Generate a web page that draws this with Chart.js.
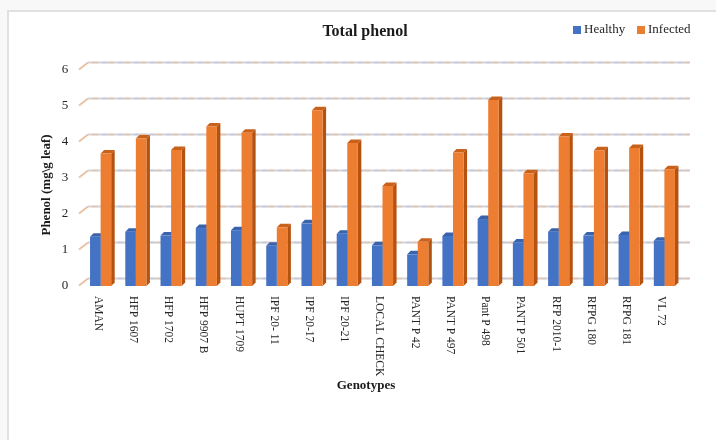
<!DOCTYPE html>
<html>
<head>
<meta charset="utf-8">
<script src="https://cdn.jsdelivr.net/npm/chart.js@4/dist/chart.umd.min.js"></script>
<style>
html,body{margin:0;padding:0;background:#fff;}
canvas{display:block;}
</style>
</head>
<body>
<canvas id="c" width="716" height="440"></canvas>
<script>
const categories = ["AMAN","HFP 1607","HFP 1702","HFP 9907 B","HUPT 1709","IPF 20- 11","IPF 20-17","IPF 20-21","LOCAL CHECK","PANT P 42","PANT P 497","Pant P 498","PANT P 501","RFP 2010-1","RFPG 180","RFPG 181","VL 72"];
const healthy  = [1.37,1.51,1.40,1.61,1.55,1.12,1.74,1.45,1.13,0.88,1.39,1.86,1.21,1.51,1.40,1.42,1.26];
const infected = [3.68,4.10,3.78,4.43,4.26,1.63,4.88,3.97,2.78,1.23,3.71,5.17,3.13,4.15,3.77,3.83,3.24];
const yTicks = [0,1,2,3,4,5,6];
const seriesNames = ["Healthy","Infected"];
const chartTitle = "Total phenol";
const xTitle = "Genotypes";
const yTitle = "Phenol (mg\\g leaf)";

const FRONT = ["#4472C4","#ED7D31"];
const SIDE  = ["#2E5597","#B5520F"];
const TOP   = ["#3A63AE","#C9611B"];
const SERIF = '"Liberation Serif", "DejaVu Serif", serif';
const D = 3.5;

const framePlugin = {
  id:'frame',
  beforeDraw(chart){
    const ctx = chart.ctx;
    ctx.save();
    ctx.fillStyle = '#f8f8f8';
    ctx.fillRect(0,0,chart.width,chart.height);
    ctx.fillStyle = '#ffffff';
    ctx.fillRect(9,12,chart.width,chart.height);
    ctx.strokeStyle = '#e1e1e1';
    ctx.lineWidth = 2;
    ctx.strokeRect(8,11,chart.width+10,chart.height+10);
    // back-wall gridlines
    const ys = chart.scales.y, area = chart.chartArea;
    yTicks.forEach(v=>{
      const yf = ys.getPixelForValue(v);
      const yb = yf - 7.5;
      const xf = area.left - 4, xb = area.left + 5;
      ctx.lineWidth = 2;
      ctx.strokeStyle = '#e8c3a8';
      ctx.beginPath(); ctx.moveTo(xf, yf-0.5); ctx.lineTo(xb, yb); ctx.stroke();
      ctx.strokeStyle = '#d6d3d6';
      ctx.beginPath(); ctx.moveTo(xb, yb); ctx.lineTo(690, yb); ctx.stroke();
      ctx.setLineDash([6,10]);
      ctx.strokeStyle = 'rgba(236,178,134,0.35)';
      ctx.beginPath(); ctx.moveTo(xb+4, yb); ctx.lineTo(690, yb); ctx.stroke();
      ctx.setLineDash([5,11]);
      ctx.strokeStyle = 'rgba(160,184,228,0.35)';
      ctx.beginPath(); ctx.moveTo(xb+14, yb); ctx.lineTo(690, yb); ctx.stroke();
      ctx.setLineDash([]);
    });
    ctx.restore();
  },
  beforeDatasetsDraw(chart){
    const ctx = chart.ctx;
    ctx.save();
    chart.data.datasets.forEach((ds, di)=>{
      const meta = chart.getDatasetMeta(di);
      meta.data.forEach(el=>{
        const p = el.getProps(['x','y','base','width'], true);
        const l = p.x - p.width/2, r = p.x + p.width/2;
        ctx.fillStyle = SIDE[di];
        ctx.beginPath();
        ctx.moveTo(r, p.y); ctx.lineTo(r+D, p.y-D); ctx.lineTo(r+D, p.base-D); ctx.lineTo(r, p.base);
        ctx.closePath(); ctx.fill();
        ctx.fillStyle = TOP[di];
        ctx.beginPath();
        ctx.moveTo(l, p.y); ctx.lineTo(l+D, p.y-D); ctx.lineTo(r+D, p.y-D); ctx.lineTo(r, p.y);
        ctx.closePath(); ctx.fill();
      });
    });
    ctx.restore();
  },
  afterDraw(chart){
    const ctx = chart.ctx, xs = chart.scales.x, ys = chart.scales.y;
    ctx.save();
    ctx.fillStyle = '#262626';
    ctx.font = '13px ' + SERIF;
    ctx.textAlign = 'center';
    ctx.textBaseline = 'middle';
    yTicks.forEach(v=>{ ctx.fillText(String(v), 65, ys.getPixelForValue(v)); });
    ctx.font = '11.5px ' + SERIF;
    categories.forEach((c,i)=>{
      const x = xs.getPixelForValue(i) - 3;
      ctx.save();
      ctx.translate(x, 296);
      ctx.rotate(Math.PI/2);
      ctx.textAlign = 'left';
      ctx.textBaseline = 'middle';
      ctx.fillText(c, 0, 0);
      ctx.restore();
    });
    ctx.fillStyle = '#1a1a1a';
    ctx.font = 'bold 16px ' + SERIF;
    ctx.textAlign = 'center';
    ctx.fillText(chartTitle, 365, 32);
    ctx.font = 'bold 13px ' + SERIF;
    ctx.fillText(xTitle, 366, 386);
    ctx.save();
    ctx.translate(47, 185);
    ctx.rotate(-Math.PI/2);
    ctx.font = 'bold 13px ' + SERIF;
    ctx.fillText(yTitle, 0, 0);
    ctx.restore();
    ctx.font = '13px ' + SERIF;
    ctx.textAlign = 'left';
    ctx.fillStyle = FRONT[0];
    ctx.fillRect(573, 26, 8, 8);
    ctx.fillStyle = '#262626';
    ctx.fillText(seriesNames[0], 584, 30);
    ctx.fillStyle = FRONT[1];
    ctx.fillRect(637, 26, 8, 8);
    ctx.fillStyle = '#262626';
    ctx.fillText(seriesNames[1], 648, 30);
    ctx.restore();
  }
};

new Chart(document.getElementById('c'), {
  type:'bar',
  data:{
    labels: categories,
    datasets:[
      {label: seriesNames[0], data: healthy, backgroundColor: FRONT[0], borderWidth:0, categoryPercentage:0.6, barPercentage:1.0},
      {label: seriesNames[1], data: infected, backgroundColor: FRONT[1], borderWidth:0, categoryPercentage:0.6, barPercentage:1.0}
    ]
  },
  options:{
    responsive:false,
    animation:false,
    layout:{padding:{left:83, right:34, top:70, bottom:154}},
    plugins:{legend:{display:false}, title:{display:false}, tooltip:{enabled:false}},
    scales:{
      x:{display:false},
      y:{display:false, min:0, max:6}
    }
  },
  plugins:[framePlugin]
});
</script>
</body>
</html>
